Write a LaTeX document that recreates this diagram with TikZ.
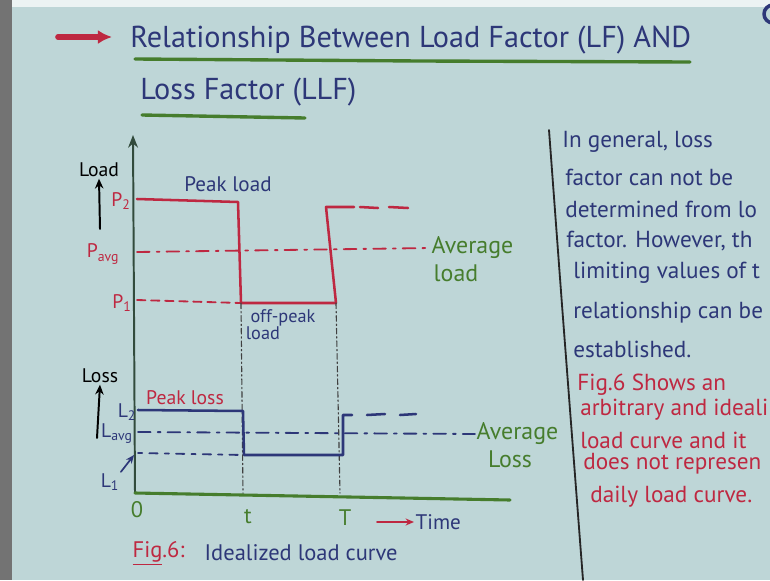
\documentclass[tikz,border=0pt]{standalone}
\usepackage{fontspec}
\setmainfont{PT Sans}
\usetikzlibrary{arrows.meta,positioning}

\definecolor{board}{RGB}{190,214,215}
\definecolor{ink}{RGB}{45,55,120}
\definecolor{marker}{RGB}{190,40,65}
\definecolor{leaf}{RGB}{70,125,45}
\definecolor{axisgrey}{RGB}{50,75,60}

\begin{document}
\begin{tikzpicture}[x=0.025cm, y=-0.025cm, line cap=round, line join=round]

    % Styles
    \tikzstyle{heading} = [anchor=west, text=ink, inner sep=0pt, font=\fontsize{21.5}{24}\selectfont]
    \tikzstyle{note} = [anchor=west, inner sep=0pt, font=\fontsize{16.5}{19}\selectfont]
    \tikzstyle{tag} = [inner sep=1pt, font=\fontsize{14}{16}\selectfont]
    \tikzstyle{avgtag} = [inner sep=1pt, text=leaf, font=\fontsize{17}{19}\selectfont]
    \tikzstyle{underline} = [leaf, line width=2.4pt]
    \tikzstyle{loadcurve} = [marker, line width=1.8pt]
    \tikzstyle{losscurve} = [ink, line width=1.8pt]
    \tikzstyle{avgline} = [line width=1.3pt, dash pattern=on 9pt off 5pt on 2pt off 5pt]
    \tikzstyle{guide} = [black!75, line width=0.8pt, dash pattern=on 4pt off 2pt on 1pt off 2pt]
    \tikzstyle{axisline} = [axisgrey, line width=1.4pt]
    \tikzstyle{connection} = [-{Stealth[length=7pt, width=6pt]}, line width=1.4pt]

    % Board
    \fill[board] (0,0) rectangle (770,580);
    \useasboundingbox (0,0) rectangle (770,580);
    \clip (0,0) rectangle (770,580);
    \fill[black!55] (0,0) rectangle (12,580);
    \fill[white!70!board] (12,0) rectangle (770,7);
    \draw[ink, line width=2.5pt] (773,14) circle[radius=9];

    % Title
    \coordinate (arrowtail) at (58,37);
    \coordinate (arrowtip) at (112,37);
    \draw[-{Latex[length=10pt, width=10pt]}, marker, line width=4pt] (arrowtail) -- (arrowtip);
    \node[heading] (head1) at (130,40) {Relationship Between Load Factor (LF) AND};
    \node[heading] (head2) at (140,92) {Loss Factor (LLF)};
    \draw[underline] (135,59) -- (420,61) -- (690,62);
    \draw[underline] (142,115) -- (305,118);

    % Axes
    \coordinate (origin) at (135,493);
    \coordinate (ytop) at (133,135);
    \coordinate (xend) at (510,500);
    \draw[axisline, -{Stealth[length=9pt, width=7pt]}] (origin) -- (ytop);
    \draw[leaf, line width=2.2pt] (origin) -- (xend);

    % Load curve
    \coordinate (p2a) at (137,199);
    \coordinate (p2b) at (238,202);
    \coordinate (p1a) at (241,303);
    \coordinate (p1b) at (336,303);
    \coordinate (p2c) at (326,207);
    \coordinate (p2d) at (354,207);
    \draw[loadcurve] (p2a) -- (p2b) -- (p1a) -- (p1b) -- (p2c) -- (p2d);
    \foreach \a/\b in {360/378, 389/408}
        \draw[loadcurve] (\a,207) -- (\b,208);
    \draw[loadcurve, line width=1.3pt, dash pattern=on 6pt off 4pt] (137,300) -- (p1a);

    \node[avgtag, anchor=west] (avgload) at (430,248) {Average};
    \node[avgtag] (avgload2) at (456,273) {load};
    \draw[avgline, marker] (137,252) -- (avgload.west);

    \node[tag, text=marker] (P2) at (121,201) {P\textsubscript{2}};
    \node[tag, text=marker] (Pavg) at (103,254) {P\textsubscript{avg}};
    \node[tag, text=marker] (P1) at (122,303) {P\textsubscript{1}};
    \node[tag] (loadlabel) at (99,170) {Load};
    \coordinate (loadfoot) at (100,229);
    \draw[connection] (loadfoot) -- (loadlabel.south);
    \node[tag, text=ink, font=\fontsize{15}{17}\selectfont] (peakload) at (228,184) {Peak load};
    \node[tag, text=ink, align=center, font=\fontsize{13}{12}\selectfont] (offpeak) at (283,325) {off-peak\\load\hspace*{2.2em}};

    % Time marks
    \coordinate (tfoot) at (243,493);
    \coordinate (Tfoot) at (340,493);
    \draw[guide] (p1a) -- (tfoot);
    \draw[guide] (p1b) -- (Tfoot);

    % Loss curve
    \coordinate (l2a) at (138,410);
    \coordinate (l2b) at (243,411);
    \coordinate (l1a) at (244,455);
    \coordinate (l1b) at (343,455);
    \coordinate (l2c) at (343,415);
    \coordinate (l2d) at (352,415);
    \draw[losscurve] (l2a) -- (l2b) -- (l1a) -- (l1b) -- (l2c) -- (l2d);
    \foreach \a/\b in {367/385, 400/416}
        \draw[losscurve] (\a,415) -- (\b,414);
    \draw[losscurve, line width=1.3pt, dash pattern=on 3pt off 5pt on 6pt off 5pt] (138,453) -- (l1a);

    \node[avgtag, anchor=west] (avgloss) at (475,434) {Average};
    \node[avgtag] (avgloss2) at (510,459) {Loss};
    \draw[avgline, ink] (138,432) -- (avgloss.west);

    \node[tag] (losslabel) at (100,376) {Loss};
    \coordinate (lossfoot) at (97,438);
    \draw[connection] (lossfoot) -- (losslabel.south);
    \node[tag, text=ink] (L2) at (127,412) {L\textsubscript{2}};
    \node[tag, text=ink] (Lavg) at (117,434) {L\textsubscript{avg}};
    \node[tag, text=ink] (L1) at (110,482) {L\textsubscript{1}};
    \coordinate (l1tip) at (134,455);
    \draw[-{Stealth[length=6pt, width=5pt]}, ink, line width=1.2pt] (L1.north east) -- (l1tip);
    \node[tag, text=marker] (peakloss) at (185,398) {Peak loss};

    % Axis labels
    \node[tag, text=leaf, font=\fontsize{16}{18}\selectfont] (zero) at (137,510) {0};
    \node[tag, text=leaf, font=\fontsize{16}{18}\selectfont] (tlab) at (248,517) {t};
    \node[tag, text=leaf, font=\fontsize{16}{18}\selectfont] (Tlab) at (345,518) {T};
    \node[tag, text=ink, anchor=west, font=\fontsize{15}{17}\selectfont] (time) at (414,522) {Time};
    \coordinate (timetail) at (377,522);
    \draw[-{Stealth[length=6pt, width=5pt]}, marker, line width=1.2pt] (timetail) -- (time.west);

    % Caption
    \node[tag, anchor=west, text=marker, font=\fontsize{16}{18}\selectfont] (figcap) at (131,553) {\underline{Fig}.6:};
    \node[tag, anchor=west, text=ink, font=\fontsize{16}{18}\selectfont] (idealcap) at (203,553) {Idealized load curve};

    % Side notes
    \draw[black!85, line width=1.3pt] (549,130) -- (562,305) -- (583,580);
    \foreach \x/\y/\t in {562/142/{In general, loss}, 565/177/{factor can not be},
                          565/209/{determined from lo}, 566/241/{factor. However, th},
                          573/273/{limiting values of t}, 573/313/{relationship can be},
                          573/349/{established.}}
        \node[note, text=ink] at (\x,\y) {\t};
    \foreach \x/\y/\t in {577/385/{Fig.6 Shows an}, 580/410/{arbitrary and ideali},
                          580/440/{load curve and it}, 583/464/{does not represen},
                          590/497/{daily load curve.}}
        \node[note, text=marker] at (\x,\y) {\t};

\end{tikzpicture}
\end{document}
